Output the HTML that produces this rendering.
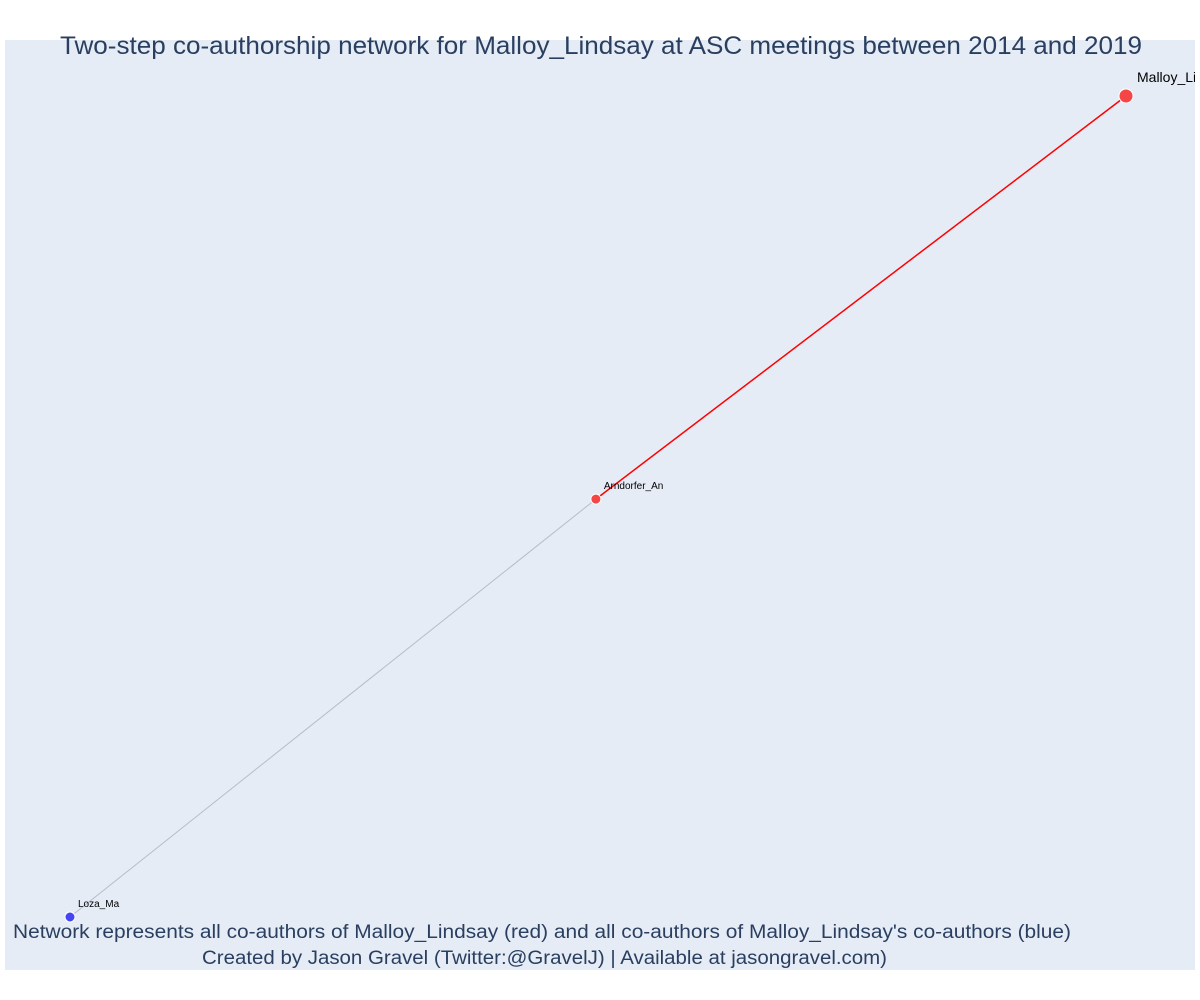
<!DOCTYPE html>
<html><head><meta charset="utf-8"><style>
html,body{margin:0;padding:0;background:#fff;}
svg{display:block;font-family:"Liberation Sans",sans-serif;}
</style></head><body>
<svg id="chart" width="1200" height="1000">
<defs><clipPath id="clip"><rect x="5" y="40" width="1190" height="930"/></clipPath></defs>
<rect x="5" y="40" width="1190" height="930" fill="#e5ecf6"/>
<g id="edges" clip-path="url(#clip)"></g>
<g id="nodes" clip-path="url(#clip)"></g>
<text x="60" y="54" font-size="25" fill="#2a3f5f" textLength="1082" lengthAdjust="spacingAndGlyphs">Two-step co-authorship network for Malloy_Lindsay at ASC meetings between 2014 and 2019</text>
<text x="13" y="938" font-size="19" fill="#2a3f5f" textLength="1058" lengthAdjust="spacingAndGlyphs">Network represents all co-authors of Malloy_Lindsay (red) and all co-authors of Malloy_Lindsay's co-authors (blue)</text>
<text x="202" y="964" font-size="19" fill="#2a3f5f" textLength="685" lengthAdjust="spacingAndGlyphs">Created by Jason Gravel (Twitter:@GravelJ) | Available at jasongravel.com)</text>
</svg>
<script>
const names = ["Loza_Ma", "Arndorfer_An", "Malloy_Lindsay"];
const labels = ["Loza_Ma", "Arndorfer_An", "Malloy_Lindsay"];
const xs = [0, 0.498, 1];
const ys = [0, 0.509, 1];
const groups = ["blue", "red", "focal"];
const edgeFrom = [0, 1];
const edgeTo = [1, 2];
const edgeType = ["grey", "red"];

const NS = "http://www.w3.org/2000/svg";
function sx(v){ return 70 + v * 1056; }
function sy(v){ return 917 - v * 821; }
const eg = document.getElementById("edges");
const ng = document.getElementById("nodes");
for (let i = 0; i < edgeFrom.length; i++) {
  const l = document.createElementNS(NS, "line");
  l.setAttribute("x1", sx(xs[edgeFrom[i]])); l.setAttribute("y1", sy(ys[edgeFrom[i]]));
  l.setAttribute("x2", sx(xs[edgeTo[i]])); l.setAttribute("y2", sy(ys[edgeTo[i]]));
  l.setAttribute("stroke", edgeType[i] === "red" ? "#ff0000" : "#b8bcc8");
  l.setAttribute("stroke-width", edgeType[i] === "red" ? 1.5 : 1);
  
  
  eg.appendChild(l);
}
for (let i = 0; i < names.length; i++) {
  const c = document.createElementNS(NS, "circle");
  const big = groups[i] === "focal";
  c.setAttribute("cx", sx(xs[i])); c.setAttribute("cy", sy(ys[i]));
  c.setAttribute("r", big ? 7 : 5);
  c.setAttribute("fill", groups[i] === "blue" ? "#4545f5" : "#f54545");
  c.setAttribute("stroke", "#ffffff"); c.setAttribute("stroke-width", 1);
  
  
  ng.appendChild(c);
  const t = document.createElementNS(NS, "text");
  t.setAttribute("x", sx(xs[i]) + (big ? 11 : 8));
  t.setAttribute("y", sy(ys[i]) - (big ? 14 : 10));
  t.setAttribute("font-size", big ? 14 : 10);
  t.setAttribute("fill", "#000");
  t.textContent = labels[i];
  
  
  ng.appendChild(t);
}
</script>
</body></html>
